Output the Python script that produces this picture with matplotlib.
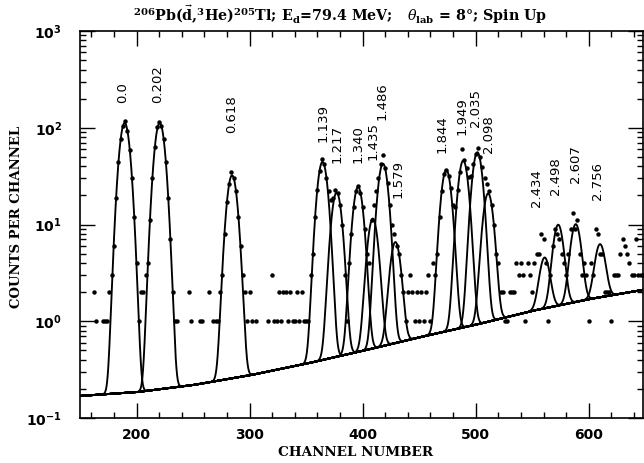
import numpy as np
import matplotlib
matplotlib.use('Agg')
from matplotlib import pyplot as plt
from matplotlib.ticker import LogLocator, MultipleLocator, LogFormatterSciNotation, NullFormatter

plt.rcParams['mathtext.fontset'] = 'dejavuserif'

# Spectrum, 2-channel bins (empty bins are not listed)
channel = [162, 164, 170, 172, 174, 176, 178,
           180, 182, 184, 186, 188, 190, 192, 194, 196, 198, 200, 202, 204, 206, 208,
           210, 212, 214, 216, 218, 220, 222, 224, 226, 228, 230, 232, 234, 236,
           246, 248, 256, 258, 264, 268, 270, 272, 274, 276,
           278, 280, 282, 284, 286, 288, 290, 292, 294, 296, 298, 300, 302, 306,
           316, 320, 322, 324, 326, 328, 330, 332, 334, 336, 338, 340, 342, 344,
           346, 348, 350, 352, 354,
           356, 358, 360, 362, 364, 366, 368, 370, 372, 374, 376, 378, 380, 382,
           384, 386, 388, 390, 392, 394, 396, 398, 400, 402, 404, 406, 408, 410,
           412, 414, 416, 418, 420, 422, 424, 426, 428, 430, 432, 434, 436, 438,
           440, 442, 444, 446, 448, 450, 452, 454, 456, 458, 460, 462, 464,
           466, 468, 470, 472, 474, 476, 478, 480, 482, 484, 486, 488, 490, 492,
           494, 496, 498, 500, 502, 504, 506, 508, 510, 512, 514, 516, 518, 520, 522,
           524, 526, 528, 530, 532, 534, 536, 538, 540, 542, 544, 546, 548, 550,
           552, 554, 556, 558, 560, 562, 564, 566, 568, 570, 572, 574, 576, 578,
           580, 582, 584, 586, 588, 590, 592, 594, 596, 598, 600, 602, 604, 606,
           608, 610, 612, 614, 616, 618, 620, 622, 624, 626, 628, 630, 632, 634,
           636, 638, 640, 642, 644, 646, 648]
counts = [2, 1, 1, 1, 1, 2, 3,
          6, 19, 44, 76, 104, 118, 92, 59, 30, 12, 4, 1, 2, 2, 3,
          4, 11, 30, 63, 101, 115, 104, 76, 44, 19, 7, 2, 1, 1,
          2, 1, 1, 1, 2, 1, 1, 1, 2, 3,
          8, 17, 26, 35, 30, 22, 12, 6, 3, 2, 1, 2, 1, 1,
          1, 3, 1, 1, 2, 1, 2, 2, 1, 2, 1, 1, 2, 1,
          2, 1, 1, 1, 3,
          5, 12, 23, 36, 47, 42, 30, 22, 18, 19, 23, 21, 16, 10,
          3, 1, 4, 8, 15, 22, 25, 21, 15, 9, 5, 4, 11, 16,
          22, 30, 42, 52, 38, 27, 16, 10, 8, 6, 5, 3, 2, 1,
          2, 3, 2, 1, 2, 1, 2, 1, 2, 3, 1, 4, 3,
          5, 12, 22, 33, 37, 32, 24, 16, 15, 23, 35, 60, 46, 38,
          31, 32, 42, 53, 62, 50, 39, 30, 26, 22, 16, 10, 5, 4, 2,
          2, 1, 1, 2, 2, 2, 4, 3, 4, 3, 1, 4, 3, 2,
          4, 5, 5, 8, 7, 4, 1, 3, 6, 9, 8, 7, 5, 4,
          3, 5, 9, 13, 9, 11, 5, 3, 4, 3, 1, 4, 3, 9,
          8, 5, 5, 2, 2, 2, 1, 3, 3, 3, 5, 7, 6, 5,
          4, 3, 3, 7, 3, 3, 3]

# Fitted background level
bg_channel = [150, 200, 250, 300, 350, 400, 450, 500, 550, 600, 650]
bg_level = [0.169, 0.185, 0.219, 0.276, 0.364, 0.494, 0.682, 0.92, 1.28, 1.69, 2.13]

# Fitted peaks: excitation energy (MeV), centroid, height above background, width
peak_energy = ['0.0', '0.202', '0.618', '1.139', '1.217', '1.340', '1.435', '1.486',
               '1.579', '1.844', '1.949', '2.035', '2.098', '2.434', '2.498', '2.607',
               '2.756']
peak_centroid = [189.5, 220.5, 284.5, 364.5, 377, 396, 409, 418,
                 429, 474, 489, 501.5, 511, 561, 573, 588.5, 610]
peak_height = [112, 112, 32, 44, 21, 24, 11, 42,
               6, 36, 45, 55, 20, 3.2, 8.5, 8.5, 4.5]
peak_sigma = [4.0] * 17

# Where each energy label sits (bottom of the rotated text)
label_channel = [188, 219, 284, 365, 377, 396, 409, 417, 431, 470, 488, 500, 511,
                 554, 571, 588, 608]
label_counts = [180, 180, 88, 71, 43, 43, 46, 120, 18.7, 54.6, 84, 101, 54.6,
                15.1, 20.1, 26.7, 17.8]

fig = plt.figure(figsize=(6.44, 4.63), dpi=100)
ax = fig.add_axes([80 / 644, 45 / 463, 563 / 644, 387 / 463])

x = np.linspace(150, 648, 2500)
bg = 10 ** np.interp(x, bg_channel, np.log10(bg_level))
ax.plot(x, bg, color='black', lw=1.4)
for c, h, s in zip(peak_centroid, peak_height, peak_sigma):
    ax.plot(x, bg + h * np.exp(-0.5 * ((x - c) / s) ** 2), color='black', lw=1.35)

ax.plot(channel, counts, 'o', color='black', ms=3.2, mew=0)

for lab, c, y in zip(peak_energy, label_channel, label_counts):
    ax.text(c, y, lab, rotation=90, ha='center', va='bottom',
            fontsize=9.5, family='DejaVu Sans')

ax.set_yscale('log')
ax.set_xlim(150, 648)
ax.set_ylim(0.1, 1000)
ax.xaxis.set_major_locator(MultipleLocator(100))
ax.xaxis.set_minor_locator(MultipleLocator(20))
ax.yaxis.set_major_locator(LogLocator(base=10, numticks=10))
ax.yaxis.set_minor_locator(LogLocator(base=10, subs=np.arange(2, 10), numticks=20))
ax.yaxis.set_major_formatter(LogFormatterSciNotation())
ax.yaxis.set_minor_formatter(NullFormatter())

ax.tick_params(which='both', direction='in', top=True, right=True, width=1.0)
ax.tick_params(which='major', length=11)
ax.tick_params(which='minor', length=4.5)
ax.tick_params(axis='x', which='major', pad=7.5)
ax.tick_params(axis='y', which='major', pad=13)
for lab in ax.get_xticklabels() + ax.get_yticklabels():
    lab.set_family('DejaVu Sans')
    lab.set_weight('bold')
    lab.set_fontsize(10)
for sp in ax.spines.values():
    sp.set_linewidth(1.2)

fig.text(356 / 644, 1 - 453 / 463, 'CHANNEL NUMBER', ha='center', va='center',
         family='DejaVu Serif', weight='bold', fontsize=9.7)
fig.text(17 / 644, 1 - 217 / 463, 'COUNTS PER CHANNEL', ha='center', va='center',
         rotation=90, family='DejaVu Serif', weight='bold', fontsize=9.5)
fig.text(340 / 644, 1 - 15 / 463,
         r'$^{\mathdefault{206}}$Pb($\vec{\mathdefault{d}}$,$^{\mathdefault{3}}$He)'
         r'$^{\mathdefault{205}}$Tl; E$_{\mathdefault{d}}$=79.4 MeV;   '
         r'$\theta_{\mathdefault{lab}}$ = 8°; Spin Up',
         ha='center', va='center', family='DejaVu Serif', weight='bold', fontsize=10.3)

fig.savefig('out.png', dpi=100)
